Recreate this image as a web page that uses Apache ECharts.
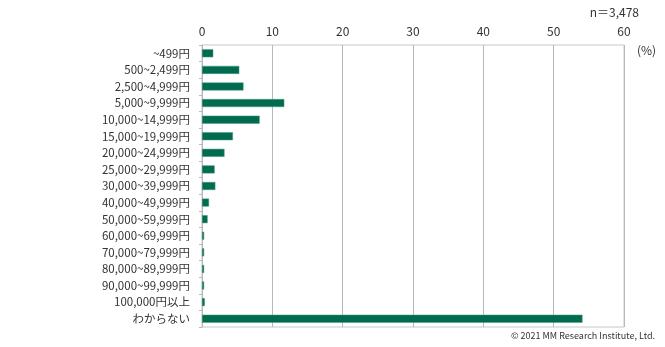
<!DOCTYPE html>
<html><head><meta charset="utf-8">
<script src="https://cdn.jsdelivr.net/npm/echarts@6/dist/echarts.min.js"></script>
<style>html,body{margin:0;padding:0;background:#fff}#c{width:665px;height:347px}</style>
</head><body><div id="c"></div>
<script>
const categories = ["~499円","500~2,499円","2,500~4,999円","5,000~9,999円","10,000~14,999円","15,000~19,999円","20,000~24,999円","25,000~29,999円","30,000~39,999円","40,000~49,999円","50,000~59,999円","60,000~69,999円","70,000~79,999円","80,000~89,999円","90,000~99,999円","100,000円以上","わからない"];
const values = [1.6,5.3,5.9,11.7,8.2,4.4,3.2,1.8,1.9,1.0,0.8,0.3,0.3,0.3,0.3,0.4,54.1];
const xTicks = [0,10,20,30,40,50,60];
const font = '"Noto Sans CJK JP", "Noto Sans", sans-serif';
const chart = echarts.init(document.getElementById('c'));
chart.setOption({
  animation:false,
  textStyle:{fontFamily:font},
  grid:{left:202,right:41,top:45,bottom:20,show:true,borderColor:'#c8c8c8',borderWidth:1},
  xAxis:{type:'value',position:'top',min:xTicks[0],max:xTicks[xTicks.length-1],interval:10,
    axisLine:{show:false},axisTick:{show:false},
    axisLabel:{color:'#333',fontSize:12,fontFamily:font,margin:8},
    splitLine:{lineStyle:{color:'#b8b8b8',width:1}}},
  yAxis:{type:'category',data:categories,inverse:true,
    axisLine:{lineStyle:{color:'#b8b8b8'}},
    axisTick:{show:true,length:3,lineStyle:{color:'#b8b8b8'}},
    axisLabel:{color:'#333',fontSize:11.5,fontFamily:font,margin:12}},
  series:[{type:'bar',data:values,barWidth:8,
    itemStyle:{color:'#006b4f',borderColor:'#4f9a83',borderWidth:0.5}}],
  graphic:[
    {type:'text',right:26,top:6,style:{text:'n＝3,478',fill:'#333',fontSize:12,fontFamily:font}},
    {type:'text',left:637,top:44,style:{text:'(%)',fill:'#333',fontSize:12,fontFamily:font}},
    {type:'text',right:10,top:331,style:{text:'© 2021 MM Research Institute, Ltd.',fill:'#333',fontSize:9,fontFamily:font}}
  ]
});
</script></body></html>
